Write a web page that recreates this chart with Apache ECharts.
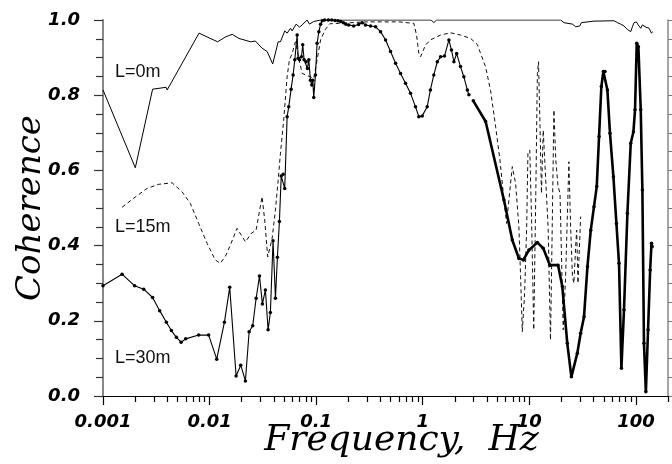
<!DOCTYPE html>
<html><head><meta charset="utf-8">
<script src="https://cdn.jsdelivr.net/npm/echarts@6/dist/echarts.min.js"></script>
<style>html,body{margin:0;padding:0;background:#fff}#c{width:672px;height:464px}</style>
</head><body><div id="c"></div>
<script>
// L = 0 m : thin solid line
const L0 = [[0.001,0.814],[0.00201,0.607],[0.00292,0.816],[0.00391,0.821],[0.004,0.814],[0.00796,0.965],[0.0119,0.942],[0.0141,0.955],[0.0163,0.962],[0.0188,0.951],[0.0243,0.942],[0.0269,0.944],[0.0311,0.925],[0.0347,0.916],[0.0391,0.883],[0.044,0.942],[0.0462,0.942],[0.0507,0.971],[0.0534,0.965],[0.0574,0.978],[0.0595,0.971],[0.0649,0.989],[0.0697,0.981],[0.0739,0.987],[0.0823,1.0],[0.0865,0.989],[0.0949,0.996],[0.11,1.0],[1.2,1.0],[1.27,0.993],[1.35,1.0],[19.7,1.0],[21.1,0.993],[25.4,0.989],[27.2,0.982],[29.7,0.984],[30.8,0.993],[40.4,0.997],[62.3,0.998],[67,0.993],[72,0.989],[77.3,0.984],[83.2,0.975],[89.4,0.969],[92.7,0.982],[96,0.993],[101,0.995],[105,0.987],[111,0.978],[115,0.987],[124,0.981],[133,0.978],[140,0.965],[143,0.969]];
// L = 15 m : dashed line
const L15 = [[0.00151,0.502],[0.00194,0.526],[0.00259,0.552],[0.00333,0.563],[0.00445,0.567],[0.00552,0.543],[0.0066,0.512],[0.0079,0.459],[0.00948,0.406],[0.0113,0.362],[0.0126,0.353],[0.0141,0.372],[0.0157,0.402],[0.0181,0.446],[0.0217,0.41],[0.0247,0.433],[0.0273,0.441],[0.0311,0.53],[0.0329,0.468],[0.0351,0.37],[0.0386,0.419],[0.0415,0.495],[0.044,0.574],[0.0462,0.645],[0.0496,0.734],[0.0534,0.849],[0.0561,0.894],[0.0595,0.911],[0.0639,0.942],[0.0687,0.898],[0.0739,0.858],[0.0949,0.845],[0.102,0.894],[0.11,0.947],[0.122,0.975],[0.134,0.99],[0.3,0.995],[0.6,0.995],[0.825,0.991],[0.875,0.96],[0.919,0.911],[0.953,0.902],[1.06,0.933],[1.18,0.947],[1.47,0.96],[1.82,0.966],[2.26,0.96],[2.81,0.951],[3.25,0.935],[3.49,0.911],[3.89,0.875],[4.33,0.812],[4.83,0.716],[5.3,0.628],[5.78,0.521],[6.12,0.459],[6.43,0.521],[6.92,0.61],[7.43,0.566],[7.98,0.45],[8.28,0.317],[8.59,0.171],[9.03,0.273],[9.44,0.45],[9.7,0.645],[10.1,0.654],[10.5,0.468],[11.0,0.176],[11.5,0.539],[11.9,0.858],[12.2,0.889],[12.6,0.716],[13.0,0.539],[13.5,0.707],[14.2,0.583],[15.0,0.45],[15.8,0.149],[16.4,0.45],[17.0,0.761],[17.7,0.628],[18.6,0.557],[19.4,0.539],[20.8,0.176],[21.9,0.317],[23.5,0.623],[24.4,0.45],[25.4,0.317],[26.2,0.3],[27.2,0.397],[27.8,0.441],[28.6,0.3],[29.2,0.3],[30.3,0.477]];
// L = 30 m : thin line with markers (low frequencies)
const L30a = [[0.001,0.293],[0.00151,0.324],[0.00198,0.293],[0.00241,0.284],[0.00292,0.262],[0.0034,0.227],[0.00393,0.196],[0.00438,0.174],[0.00488,0.156],[0.0054,0.143],[0.00597,0.152],[0.0079,0.162],[0.0098,0.162],[0.01167,0.098],[0.01377,0.196],[0.01545,0.289],[0.01774,0.053],[0.0196,0.082],[0.02168,0.04],[0.0235,0.171],[0.0254,0.187],[0.02735,0.26],[0.0294,0.319],[0.0313,0.245],[0.0334,0.282],[0.0354,0.176],[0.0372,0.222],[0.0394,0.413],[0.0415,0.26],[0.0433,0.369],[0.0452,0.464],[0.047,0.585],[0.049,0.59],[0.0507,0.552],[0.0534,0.743],[0.0553,0.769],[0.0582,0.816],[0.0608,0.854],[0.063,0.894],[0.0663,0.96],[0.0678,0.898],[0.0697,0.894],[0.0728,0.902],[0.0748,0.934],[0.0771,0.894],[0.0805,0.889],[0.0828,0.871],[0.0853,0.894],[0.0884,0.84],[0.091,0.827],[0.0929,0.84],[0.0949,0.794],[0.0985,0.854],[0.102,0.938],[0.106,0.969],[0.11,0.989],[0.114,0.998],[0.12,1.0],[0.13,1.0],[0.14,1.0],[0.15,0.999],[0.16,0.998],[0.17,0.996],[0.18,0.993],[0.19,0.989],[0.202,0.987],[0.225,0.984],[0.25,0.988],[0.27,0.993],[0.29,0.987],[0.324,0.984],[0.361,0.982],[0.402,0.969],[0.448,0.947],[0.499,0.916],[0.556,0.885],[0.619,0.858],[0.689,0.832],[0.768,0.805],[0.855,0.769],[0.919,0.743],[0.989,0.745],[1.1,0.769],[1.18,0.814],[1.27,0.854],[1.37,0.889],[1.47,0.902],[1.6,0.904],[1.76,0.947],[1.86,0.92],[1.96,0.889],[2.08,0.911],[2.26,0.876],[2.43,0.849],[2.62,0.814],[2.71,0.801]];
// L = 30 m : thick line (high frequencies)
const L30b = [[2.98,0.785],[3.89,0.73],[5.78,0.521],[6.92,0.415],[7.98,0.366],[8.79,0.362],[9.91,0.388],[11.9,0.408],[13.5,0.393],[15.6,0.348],[18.6,0.348],[20.4,0.291],[22.7,0.14],[24.8,0.051],[28.2,0.114],[30.3,0.167],[32.6,0.211],[35.1,0.344],[37.7,0.441],[40.4,0.503],[42.9,0.557],[45.1,0.69],[47.4,0.823],[49.5,0.863],[51.3,0.863],[54,0.814],[57.1,0.699],[61.5,0.583],[65.6,0.459],[69.4,0.353],[73.1,0.074],[77.3,0.229],[83.2,0.486],[89.4,0.672],[94.8,0.703],[98.1,0.761],[101.8,0.938],[105.5,0.929],[111,0.761],[115,0.548],[119,0.14],[124,0.011],[130,0.176],[136,0.335],[140,0.406],[142,0.397]];

const xTickValues = [0.001, 0.01, 0.1, 1, 10, 100];
const xTickLabels = ['0.001', '0.01', '0.1', '1', '10', '100'];
const yTickLabels = ['0.0', '0.2', '0.4', '0.6', '0.8', '1.0'];
const seriesNames = ['L=0m', 'L=15m', 'L=30m'];

const xMinor = [];
xTickValues.forEach(d => { for (let k = 2; k <= 9; k++) { const t = +(d * k).toPrecision(3); if (t <= 200) xMinor.push(t); } });

const xLabelFmt = v => { const i = xTickValues.findIndex(t => Math.abs(Math.log10(v / t)) < 0.01); return i >= 0 ? xTickLabels[i] : ''; };
const yLabelFmt = v => { const i = Math.round(v / 0.2); return Math.abs(v - i * 0.2) < 1e-6 ? yTickLabels[i] : ''; };

const tickFont = { fontFamily: 'DejaVu Sans', fontStyle: 'italic', fontWeight: 'bold', fontSize: 18, color: '#000' };
const nameFontX = { fontFamily: 'DejaVu Serif', fontStyle: 'italic', fontSize: 36, color: '#000' };
const nameFontY = { fontFamily: 'DejaVu Serif', fontStyle: 'italic', fontSize: 34, color: '#000' };

const chart = echarts.init(document.getElementById('c'), null, { renderer: 'canvas' });
chart.setOption({
  animation: false,
  backgroundColor: '#fff',
  grid: { left: 103, right: 4, top: 20, bottom: 68, containLabel: false, outerBoundsMode: 'none' },
  xAxis: [
    {
      type: 'log', logBase: 10, min: 0.001, max: 200, position: 'bottom',
      name: 'Frequency,  Hz', nameLocation: 'middle', nameGap: 27, nameMoveOverlap: false,
      nameTextStyle: Object.assign({ padding: [0, 0, 0, 32] }, nameFontX),
      axisLine: { show: true, lineStyle: { color: '#000', width: 1.2 } },
      axisTick: { show: true, length: 9, lineStyle: { color: '#000', width: 1.2 }, customValues: xTickValues },
      axisLabel: Object.assign({ show: true, margin: 17, formatter: xLabelFmt, customValues: xTickValues }, tickFont),
      splitLine: { show: false }, minorTick: { show: false }
    },
    {
      type: 'log', logBase: 10, min: 0.001, max: 200, position: 'bottom',
      axisLine: { show: false },
      axisTick: { show: true, length: 6, lineStyle: { color: '#000', width: 1.2 }, customValues: xMinor },
      axisLabel: { show: false }, splitLine: { show: false }
    }
  ],
  yAxis: [
    {
      type: 'value', min: 0, max: 1, interval: 0.2, position: 'left',
      name: 'Coherence', nameLocation: 'middle', nameGap: 55, nameMoveOverlap: false, nameTextStyle: nameFontY,
      axisLine: { show: true, lineStyle: { color: '#888', width: 2 } },
      axisTick: { show: true, length: 9, lineStyle: { color: '#333', width: 1.2 } },
      minorTick: { show: true, splitNumber: 4, length: 7, lineStyle: { color: '#333', width: 1.2 } },
      axisLabel: Object.assign({ margin: 23, formatter: yLabelFmt }, tickFont),
      splitLine: { show: false }, minorSplitLine: { show: false }
    },
    {
      type: 'value', min: 0, max: 1, interval: 0.05, position: 'right',
      axisLine: { show: true, lineStyle: { color: '#888', width: 1.5 } },
      axisTick: { show: true, length: 4, lineStyle: { color: '#777', width: 1 } },
      axisLabel: { show: false }, splitLine: { show: false }
    }
  ],
  series: [
    { name: seriesNames[0], type: 'line', data: L0, showSymbol: false, symbol: 'none',
      lineStyle: { color: '#000', width: 1 }, z: 3 },
    { name: seriesNames[1], type: 'line', data: L15, showSymbol: false, symbol: 'none',
      lineStyle: { color: '#111', width: 1, type: [4, 3] }, z: 2 },
    { name: seriesNames[2], type: 'line', data: L30a, symbol: 'circle', symbolSize: 3.5,
      itemStyle: { color: '#000' }, lineStyle: { color: '#000', width: 1.1 }, z: 4 },
    { name: seriesNames[2], type: 'line', data: L30b, symbol: 'circle', symbolSize: 3.5,
      itemStyle: { color: '#000' }, lineStyle: { color: '#000', width: 2.6 }, z: 4 }
  ],
  graphic: [
    { type: 'text', x: 115, y: 72, style: { text: seriesNames[0], fontFamily: 'Liberation Sans', fontSize: 18, fill: '#111', verticalAlign: 'middle' } },
    { type: 'text', x: 115, y: 227, style: { text: seriesNames[1], fontFamily: 'Liberation Sans', fontSize: 18, fill: '#111', verticalAlign: 'middle' } },
    { type: 'text', x: 115, y: 358, style: { text: seriesNames[2], fontFamily: 'Liberation Sans', fontSize: 18, fill: '#111', verticalAlign: 'middle' } }
  ]
});
</script></body></html>
